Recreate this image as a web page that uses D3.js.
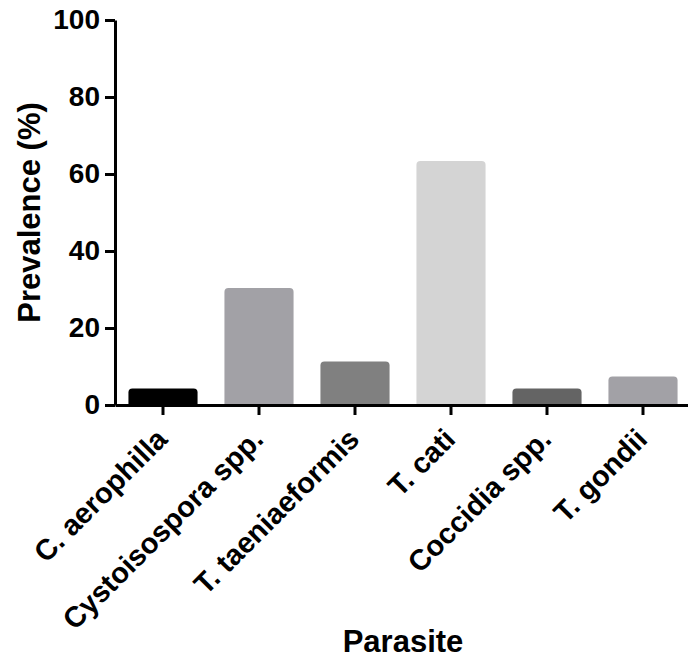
<!DOCTYPE html>
<html lang="en">
<head>
    <meta charset="UTF-8">
    <title>Parasite prevalence</title>
    <script src="https://d3js.org/d3.v7.min.js"></script>
    <style>
        body {
            margin: 0;
            background: #fff;
        }
        svg {
            display: block;
            font-family: "Liberation Sans", Arial, Helvetica, sans-serif;
            font-weight: bold;
        }
        .axis path, .axis line {
            stroke: #000;
            stroke-width: 3px;
        }
        .axis text {
            font-size: 28px;
            font-weight: bold;
            fill: #000;
            font-family: "Liberation Sans", Arial, sans-serif;
        }
        .x-axis text {
            font-size: 29px;
        }
        .axis-title {
            font-size: 31px;
            fill: #000;
        }
    </style>
</head>
<body>
    <svg width="688" height="658"></svg>
    <script>
        // Data
        const parasites = ["C. aerophilla", "Cystoisospora spp.", "T. taeniaeformis", "T. cati", "Coccidia spp.", "T. gondii"];
        const prevalence = [4.3, 30.4, 11.3, 63.4, 4.3, 7.4];
        const barColors = ["#000000", "#a2a1a6", "#808080", "#d4d4d4", "#646464", "#a2a1a6"];
        const yTicks = [0, 20, 40, 60, 80, 100];

        const svg = d3.select("svg");

        // Plot area in pixels
        const plot = {left: 115, right: 691, top: 20, bottom: 405};

        const x = d3.scaleBand()
                    .domain(parasites)
                    .range([plot.left, plot.right])
                    .paddingInner(0.28)
                    .paddingOuter(0.14);

        const y = d3.scaleLinear()
                    .domain([0, 100])
                    .range([plot.bottom, plot.top]);

        const data = parasites.map((p, i) => ({name: p, value: prevalence[i], color: barColors[i]}));

        // Bars with slightly rounded top corners
        function barPath(d) {
            const x0 = x(d.name), w = x.bandwidth();
            const y0 = y(d.value), y1 = y(0);
            const r = Math.min(4, (y1 - y0) / 2);
            return `M${x0},${y1}V${y0 + r}Q${x0},${y0} ${x0 + r},${y0}` +
                   `H${x0 + w - r}Q${x0 + w},${y0} ${x0 + w},${y0 + r}V${y1}Z`;
        }

        svg.selectAll(".bar")
           .data(data)
           .enter().append("path")
           .attr("class", "bar")
           .attr("d", barPath)
           .attr("fill", d => d.color);

        // Y axis
        svg.append("g")
           .attr("class", "axis")
           .attr("transform", `translate(${plot.left},0)`)
           .call(d3.axisLeft(y).tickValues(yTicks).tickSize(10).tickSizeOuter(0).tickPadding(5));

        // X axis
        const xAxis = svg.append("g")
           .attr("class", "axis x-axis")
           .attr("transform", `translate(0,${plot.bottom})`)
           .call(d3.axisBottom(x).tickSize(10).tickSizeOuter(0));

        xAxis.selectAll("text")
             .attr("x", 0)
             .attr("y", 0)
             .attr("dy", 0)
             .attr("transform", "translate(6,36) rotate(-45)")
             .style("text-anchor", "end");

        // Axis titles
        svg.append("text")
           .attr("class", "axis-title")
           .attr("transform", `translate(40,${(plot.top + plot.bottom) / 2}) rotate(-90)`)
           .style("text-anchor", "middle")
           .text("Prevalence (%)");

        svg.append("text")
           .attr("class", "axis-title")
           .attr("x", (plot.left + plot.right) / 2)
           .attr("y", 652)
           .style("text-anchor", "middle")
           .text("Parasite");
    </script>
</body>
</html>
